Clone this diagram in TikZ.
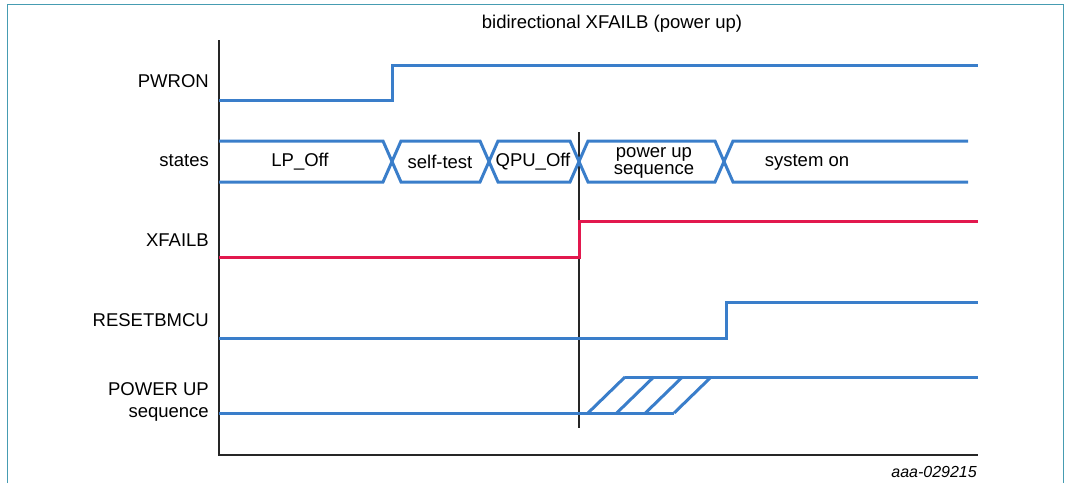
\documentclass[tikz,border=0pt]{standalone}
\usepackage{fontspec}
\setmainfont{Liberation Sans}
\definecolor{sigblue}{RGB}{58,126,202}
\definecolor{sigred}{RGB}{226,24,78}
\definecolor{framecol}{RGB}{70,156,178}
\tikzset{
  sig/.style={line width=3pt, color=sigblue, line join=miter},
  redsig/.style={sig, color=sigred},
  lbl/.style={anchor=east, inner sep=0pt, font=\fontsize{18.5}{18.5}\selectfont},
  stlbl/.style={inner sep=0pt, align=center, font=\fontsize{18.5}{16.5}\selectfont},
  axis/.style={line width=1.2pt, color=black!85}
}
\begin{document}
\begin{tikzpicture}[x=1pt,y=-1pt]
  \useasboundingbox (0,0) rectangle (1066,483);
  % frame
  \draw[framecol, line width=1.4pt] (7.5,483) -- (7.5,4.5) -- (1063.5,4.5) -- (1063.5,483);
  \node[inner sep=0pt, font=\fontsize{18.5}{18.5}\selectfont] (title) at (612,23.5) {bidirectional XFAILB (power up)};
  % axes
  \coordinate (org) at (219,455);
  \coordinate (ytop) at (219,40);
  \coordinate (xend) at (978,455);
  \draw[axis] (ytop) -- (org) -- (xend);
  % signal names
  \node[lbl] (pwron)  at (209,81)  {PWRON};
  \node[lbl] (states) at (209,161) {states};
  \node[lbl] (xfailb) at (209,240) {XFAILB};
  \node[lbl] (rstb)   at (209,320) {RESETBMCU};
  \node[lbl, align=right, font=\fontsize{18.5}{22}\selectfont] (pwrseq) at (209,402) {POWER UP\\sequence};
  % marker
  \draw[axis] (579,132) -- (579,428);
  % PWRON
  \draw[sig] (219,100) -- (392,100) -- (392,65) -- (978,65);
  % states bus
  \draw[sig] (219,141) -- (383,141) -- (392,161.5) -- (401,141) -- (480,141) -- (489,161.5) -- (498,141)
    -- (570,141) -- (579,161.5) -- (588,141) -- (715,141) -- (724,161.5) -- (733,141) -- (968,141);
  \draw[sig] (219,182) -- (383,182) -- (392,161.5) -- (401,182) -- (480,182) -- (489,161.5) -- (498,182)
    -- (570,182) -- (579,161.5) -- (588,182) -- (715,182) -- (724,161.5) -- (733,182) -- (968,182);
  \node[stlbl] (lpoff) at (300,162) {LP\_Off};
  \node[stlbl] (stest) at (440,162) {self-test};
  \node[stlbl] (qpuoff) at (533,162) {QPU\_Off};
  \node[stlbl] (pwrup) at (654,163) {power up\\sequence};
  \node[stlbl] (syson) at (807,162) {system on};
  % XFAILB
  \draw[redsig] (219,257) -- (579,257) -- (579,221) -- (978,221);
  % RESETBMCU
  \draw[sig] (219,338) -- (726,338) -- (726,302) -- (978,302);
  % POWER UP sequence
  \draw[sig] (219,413) -- (674,413);
  \draw[sig] (625,377) -- (978,377);
  \foreach \i in {0,1,2,3}
    \draw[sig] (588+28.7*\i,413) -- (625+28.7*\i,377);
  \node[anchor=east, inner sep=0pt, font=\fontsize{16}{16}\selectfont\itshape] (figid) at (977,472) {aaa-029215};
\end{tikzpicture}
\end{document}
